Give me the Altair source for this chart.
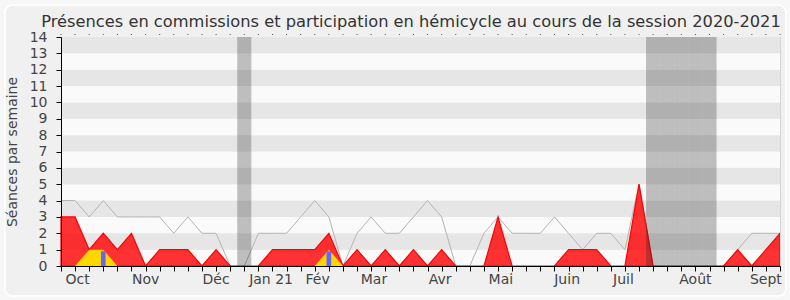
import altair as alt
import pandas as pd

# ---- data ----
weeks = list(range(52))
commission = [3, 3, 1, 2, 1, 2, 0, 1, 1, 1,
              0, 1, 0, 0, 0, 1, 1, 1, 1, 2,
              0, 1, 0, 1, 0, 1, 0, 1, 0, 0,
              0, 3, 0, 0, 0, 0, 1, 1, 1, 0,
              0, 5, 0, 0, 0, 0, 0, 0, 1, 0,
              1, 2]
hemicycle = [0, 0, 1, 1, 0, 0, 0, 0, 0, 0,
             0, 0, 0, 0, 0, 0, 0, 0, 0, 1,
             0, 0, 0, 0, 0, 0, 0, 0, 0, 0,
             0, 0, 0, 0, 0, 0, 0, 0, 0, 0,
             0, 0, 0, 0, 0, 0, 0, 0, 0, 0,
             0, 0]
maximum = [4, 4, 3, 4, 3, 3, 3, 3, 2, 3,
           2, 2, 0, 0, 2, 2, 2, 3, 4, 3,
           0, 2, 3, 2, 2, 3, 4, 3, 0, 0,
           2, 3, 2, 2, 2, 3, 2, 1, 2, 2,
           1, 5, 0, 0, 0, 0, 0, 0, 1, 2,
           2, 2]
question_weeks = [3, 19]
question_values = [0.9, 0.9]
vacation_weeks = [13, 42, 43, 44, 45, 46]
month_labels = ["Oct", "Nov", "Déc", "Jan 21", "Fév", "Mar", "Avr", "Mai",
                "Juin", "Juil", "Août", "Sept"]
month_positions = [1.18, 6.0, 11.0, 14.9, 18.2, 22.2, 26.9, 31.2, 35.9, 39.9, 45.0, 50.0]
y_ticks = list(range(15))

TITLE = "Présences en commissions et participation en hémicycle au cours de la session 2020-2021"
FONT = "DejaVu Sans"
W, H = 719, 229

df = pd.DataFrame({"week": weeks, "commission": commission,
                   "hemicycle": hemicycle, "max": maximum})
stripes = pd.DataFrame({"lo": y_ticks[:-1], "hi": y_ticks[1:]})
stripes["shade"] = stripes["lo"] % 2
vac = pd.DataFrame({"start": [w - 0.5 for w in vacation_weeks],
                    "end": [w + 0.5 for w in vacation_weeks]})
questions = pd.DataFrame({"week": question_weeks, "val": question_values,
                          "zero": [0] * len(question_weeks)})
months = pd.DataFrame({"label": month_labels, "pos": month_positions})

xscale = alt.Scale(domain=[0, 51], nice=False, zero=False)
yscale = alt.Scale(domain=[0, 14], nice=False)

X_AXIS = alt.Axis(orient="bottom", values=weeks, labels=False, tickSize=5,
                  tickColor="black", domainColor="black", title=None, grid=False, zindex=1)
Y_AXIS = alt.Axis(orient="left", values=y_ticks, tickSize=5, tickColor="black",
                  domainColor="black", labelFont=FONT, labelFontSize=14,
                  labelColor="#444444", labelPadding=9, grid=False, zindex=1,
                  title="Séances par semaine", titleFont=FONT, titleFontSize=14,
                  titleFontWeight="normal", titleColor="#444444", titlePadding=10)


def X(field):
    return alt.X(field, scale=xscale, axis=X_AXIS)


def Y(field):
    return alt.Y(field, scale=yscale, axis=Y_AXIS)


frame = alt.Chart(pd.DataFrame({"a": [0]})).mark_rect(
    fill="#f0f0f0", stroke="#ffffff", strokeWidth=1.5, cornerRadius=8
).encode(x=alt.value(-56), x2=alt.value(725), y=alt.value(-32), y2=alt.value(259))

title = alt.Chart(pd.DataFrame({"t": [TITLE]})).mark_text(
    font=FONT, fontSize=16.25, color="#333333", baseline="alphabetic", align="center"
).encode(x=alt.value(W / 2 - 9.5), y=alt.value(-10), text="t:N")

bands = alt.Chart(stripes).mark_rect().encode(
    x=alt.value(0), x2=alt.value(W),
    y=Y("lo:Q"), y2="hi:Q",
    color=alt.Color("shade:N", scale=alt.Scale(domain=[0, 1], range=["#fafafa", "#e6e6e6"]),
                    legend=None),
)

grey = alt.Chart(df).mark_line(color="#b4b4b4", strokeWidth=1).encode(
    x=X("week:Q"), y=Y("max:Q"))

red = alt.Chart(df).mark_area(fill="#ff0000", fillOpacity=0.8, stroke="#ff0000",
                              strokeWidth=1.2).encode(x=X("week:Q"), y=Y("commission:Q"))

yellow = alt.Chart(df).mark_area(fill="#ffd700").encode(x=X("week:Q"), y=Y("hemicycle:Q"))

blue = alt.Chart(questions).mark_rule(color="#6666ff", strokeWidth=4.7).encode(
    x=X("week:Q"), y=Y("zero:Q"), y2="val:Q")

vacation = alt.Chart(vac).mark_rect(fill="#1e1e1e", opacity=0.27).encode(
    x=X("start:Q"), x2="end:Q", y=alt.value(0), y2=alt.value(H))

top_dots = alt.Chart(df).mark_rule(color="#555555", strokeWidth=1).encode(
    x=X("week:Q"), y=alt.value(-3), y2=alt.value(-2))

right_edge = alt.Chart(pd.DataFrame({"a": [0]})).mark_rule(color="#d4d4d4").encode(
    x=alt.value(W + 0.5), y=alt.value(0), y2=alt.value(H))

labels = alt.Chart(months).mark_text(font=FONT, fontSize=14, color="#444444",
                                     baseline="alphabetic", align="center").encode(
    x=X("pos:Q"), y=alt.value(247), text="label:N")

chart = alt.layer(frame, title, bands, grey, red, yellow, blue, vacation, top_dots,
                  right_edge, labels).properties(
    width=W, height=H,
    autosize=alt.AutoSizeParams(type="none"),
    padding={"left": 61, "top": 37, "right": 10, "bottom": 34},
    background="#f7f7f7",
).configure_view(stroke=None)

chart.save("out.html", embed_options={"renderer": "svg", "actions": False})
